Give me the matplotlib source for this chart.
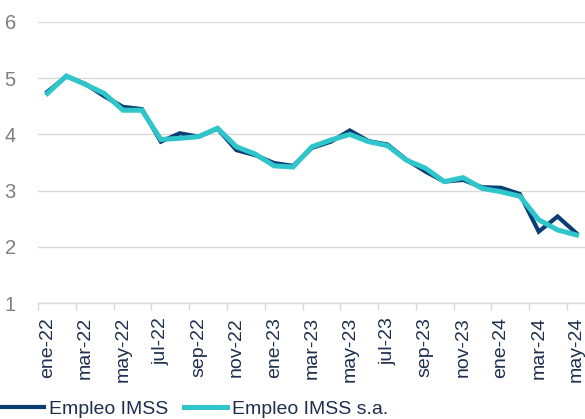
import numpy as np
import matplotlib.pyplot as plt

plt.rcParams['font.family'] = ['Liberation Sans', 'DejaVu Sans']

# Data
meses = ["ene", "feb", "mar", "abr", "may", "jun", "jul", "ago", "sep", "oct", "nov", "dic"]
fechas = [meses[i % 12] + "-" + str(22 + i // 12) for i in range(29)]

imss = [4.76, 5.03, 4.90, 4.68, 4.49, 4.45, 3.87, 4.02, 3.96, 4.10, 3.72, 3.63,
        3.49, 3.44, 3.76, 3.87, 4.07, 3.88, 3.82, 3.55, 3.34, 3.16, 3.19, 3.06,
        3.05, 2.94, 2.27, 2.54, 2.24]
imss_sa = [4.73, 5.04, 4.89, 4.73, 4.43, 4.43, 3.91, 3.93, 3.96, 4.11, 3.78, 3.65,
           3.44, 3.42, 3.78, 3.90, 4.00, 3.87, 3.80, 3.54, 3.40, 3.16, 3.23, 3.04,
           2.98, 2.90, 2.48, 2.30, 2.21]

navy = "#0A3D73"
cyan = "#2EC6CB"
txt = "#1F2F4F"
grey = "#D9D9D9"

fig = plt.figure(figsize=(5.85, 4.19), dpi=100)
ax = fig.add_axes([38 / 585, 1 - 303 / 419, 1 - 38 / 585, (303 - 22) / 419])

x = np.arange(len(fechas))
ax.plot(x, imss, color=navy, lw=3.0, label="Empleo IMSS", solid_joinstyle="miter", zorder=3)
ax.plot(x, imss_sa, color=cyan, lw=3.6, label="Empleo IMSS s.a.", solid_joinstyle="miter", zorder=4)

ax.set_ylim(1, 6)
ax.set_xlim(-0.5, 28.45)
ax.set_yticks([1, 2, 3, 4, 5, 6])
ax.grid(axis="y", color=grey, lw=1)
ax.set_axisbelow(True)

for s in ["left", "right", "top"]:
    ax.spines[s].set_visible(False)
ax.spines["bottom"].set_color(grey)
ax.spines["bottom"].set_linewidth(1)

ax.set_xticks(x[::2])
ax.set_xticklabels(fechas[::2], rotation=90, fontsize=14, color=txt)
ax.set_xticks(np.arange(-0.5, 28, 2), minor=True)
ax.tick_params(axis="x", which="major", length=0, pad=10)
ax.tick_params(axis="x", which="minor", length=5, color=grey, width=1)
ax.tick_params(axis="y", length=0, pad=16, labelsize=14.5, labelcolor="#7F7F7F")

fig.legend(loc="lower left", bbox_to_anchor=(0.0, 0.0), ncol=2, frameon=False,
           fontsize=14, handlelength=2.2, handletextpad=0.25, columnspacing=0.85,
           borderpad=0.05, borderaxespad=0.0, labelcolor=txt)

fig.savefig("out.png", dpi=100)
